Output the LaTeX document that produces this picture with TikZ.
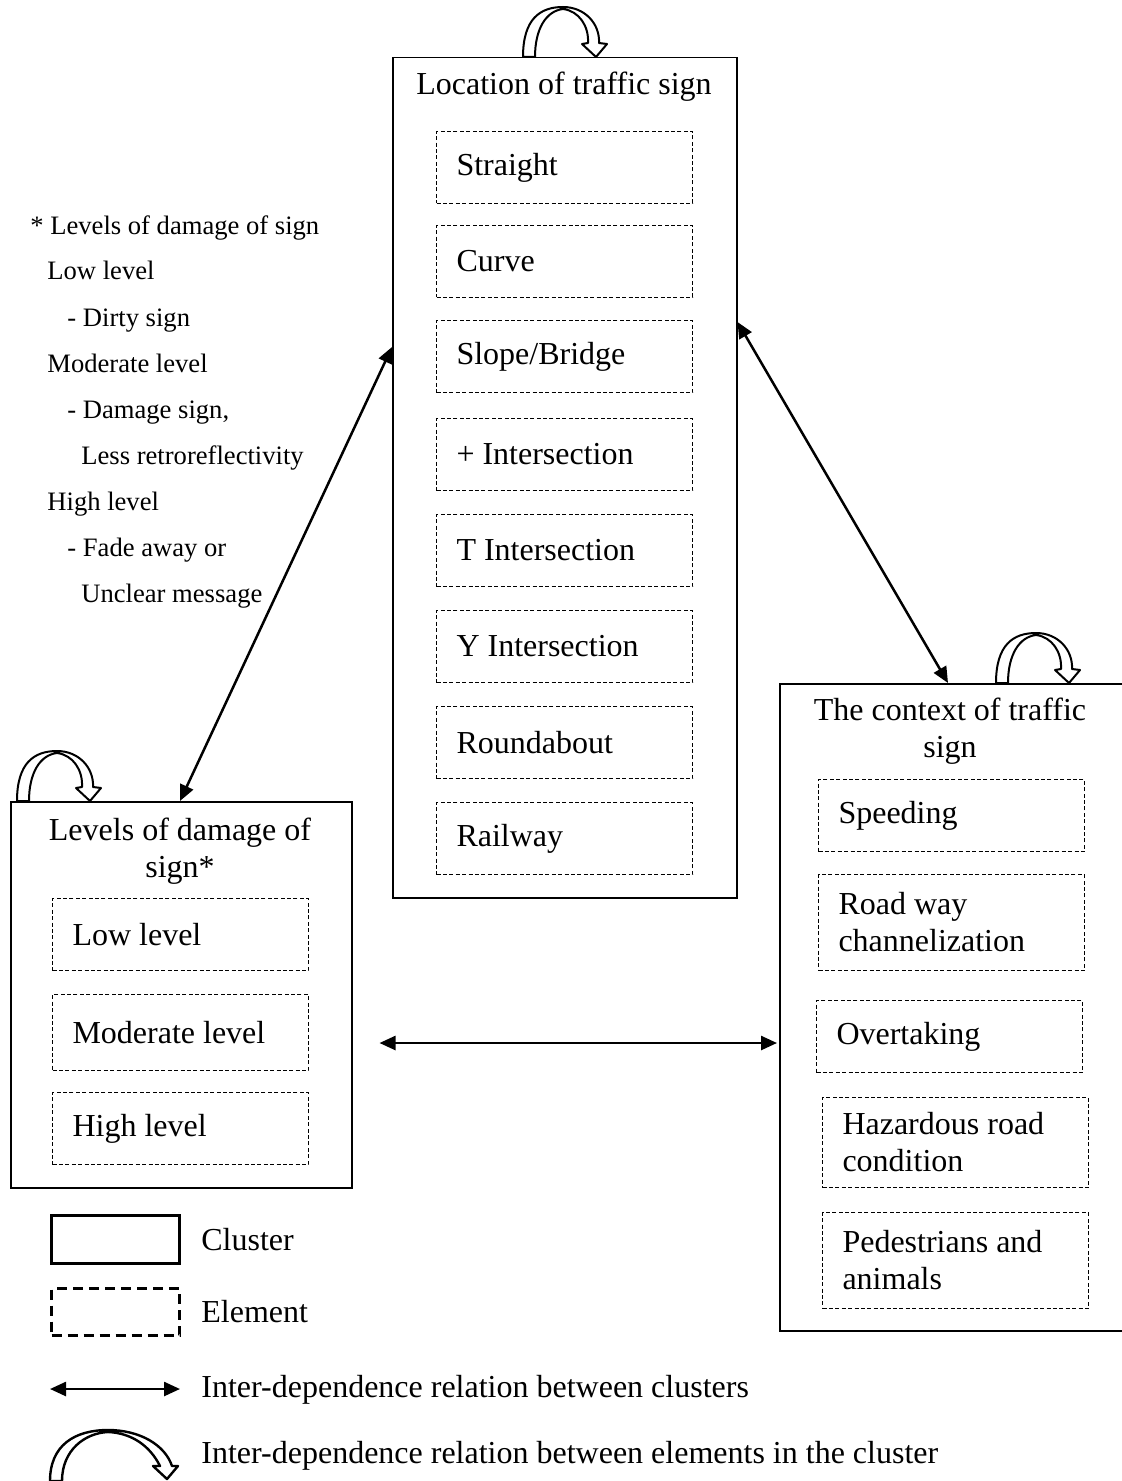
\documentclass[tikz,border=0pt]{standalone}
\usepackage{fontspec}
\setmainfont{Liberation Serif}
\usetikzlibrary{arrows.meta,calc}
\tikzset{
  selfloop/.pic={
    \draw[line width=1pt, fill=white, line join=round]
      (0,0) .. controls (0,-38) and (17,-50) .. (40,-50)
      .. controls (62,-50) and (77,-33) .. (76,-14)
      -- (84,-13) -- (73,0) -- (59,-13) -- (65,-14)
      .. controls (66,-31) and (56,-46) .. (40,-48)
      .. controls (23,-46) and (12,-28) .. (12,0) -- cycle;
  }
}
\begin{document}
\begin{tikzpicture}[x=0.5pt,y=-0.5pt,
  every node/.style={font=\fontsize{16}{18.5}\selectfont, inner sep=0pt},
  cluster/.style={draw, line width=0.75pt, anchor=north west},
  elem/.style={draw, line width=0.5pt, dash pattern=on 2pt off 1.2pt, anchor=north west,
    align=flush left, inner xsep=10pt, inner ysep=0pt, text width=108pt, minimum height=36pt},
  elemw/.style={elem, text width=113pt},
  note/.style={font=\fontsize{13.3}{16}\selectfont, anchor=west, text height=9pt, text depth=2.5pt},
  lab/.style={anchor=west, text height=11pt, text depth=3pt},
  conn/.style={line width=1.25pt, {Triangle[length=8pt,width=7pt]}-{Triangle[length=8pt,width=7pt]}}
]
\useasboundingbox (0,0) rectangle (1121,1481);

% ---------- Location cluster ----------
\node[cluster, minimum width=172pt, minimum height=420pt] (loc) at (392,57) {};
\node (loctitle) at (564,87) {Location of traffic sign};
\node[elem] (e1) at (436,131) {Straight};
\node[elem] (e2) at (436,225) {Curve};
\node[elem] (e3) at (436,320) {Slope/Bridge};
\node[elem] (e4) at (436,418) {+ Intersection};
\node[elem] (e5) at (436,514) {T Intersection};
\node[elem] (e6) at (436,610) {Y Intersection};
\node[elem] (e7) at (436,706) {Roundabout};
\node[elem] (e8) at (436,802) {Railway};
\pic at (523,57) {selfloop};

% ---------- Damage cluster ----------
\node[cluster, minimum width=170.5pt, minimum height=193pt] (dmg) at (10,801) {};
\node[align=center] (dmgtitle) at (180,851) {Levels of damage of\\sign*};
\node[elem] (d1) at (52,898) {Low level};
\node[elem, minimum height=38pt] (d2) at (52,994) {Moderate level};
\node[elem] (d3) at (52,1092) {High level};
\pic at (17,801) {selfloop};

% ---------- Context cluster ----------
\node[cluster, minimum width=172pt, minimum height=323.5pt] (ctx) at (779,683) {};
\node[align=center] (ctxtitle) at (950,731) {The context of traffic\\sign};
\node[elemw] (c1) at (818,779) {Speeding};
\node[elemw, minimum height=48pt] (c2) at (818,874) {Road way\\channelization};
\node[elemw] (c3) at (816,1000) {Overtaking};
\node[elemw, minimum height=45pt] (c4) at (822,1097) {Hazardous road\\condition};
\node[elemw, minimum height=48pt] (c5) at (822,1212) {Pedestrians and\\animals};
\pic at (996,683) {selfloop};

% ---------- Connectors between clusters ----------
\draw[conn] ($(loc.north west)+(0,290)$) -- ($(dmg.north west)+(170,0)$);
\draw[conn] ($(loc.north east)+(0,265)$) -- ($(ctx.north west)+(169,0)$);
\draw[conn] ($(dmg.north east)+(27,242)$) -- ($(ctx.north west)+(-2,360)$);

% ---------- Side note ----------
\node[note] (n1) at (30,228) {* Levels of damage of sign};
\node[note] (n2) at (47,273) {Low level};
\node[note] (n3) at (67,320) {- Dirty sign};
\node[note] (n4) at (47,366) {Moderate level};
\node[note] (n5) at (67,412) {- Damage sign,};
\node[note] (n6) at (81,458) {Less retroreflectivity};
\node[note] (n7) at (47,504) {High level};
\node[note] (n8) at (67,550) {- Fade away or};
\node[note] (n9) at (81,596) {Unclear message};

% ---------- Legend ----------
\node[draw, line width=1.5pt, anchor=north west, minimum width=64pt, minimum height=24pt] (lgc) at (50,1214) {};
\node[lab] (lgct) at (201,1242) {Cluster};
\node[draw, line width=1.5pt, dash pattern=on 5pt off 3pt, anchor=north west, minimum width=64pt, minimum height=23.5pt] (lge) at (50,1287) {};
\node[lab] (lget) at (201,1314) {Element};
\coordinate (la1) at (50,1389);
\coordinate (la2) at (180,1389);
\draw[conn] (la1) -- (la2);
\node[lab] (lgat) at (201,1389) {Inter-dependence relation between clusters};
\draw[line width=1.2pt, fill=white, line join=round]
  (50,1481) .. controls (50,1445) and (75,1430) .. (108,1430)
  .. controls (140,1430) and (165,1445) .. (172,1466)
  -- (178,1466) -- (167,1479) -- (153,1466) -- (160,1466)
  .. controls (150,1446) and (132,1433) .. (108,1432)
  .. controls (85,1433) and (62,1450) .. (62,1481) -- cycle;
\node[lab] (lglt) at (201,1455) {Inter-dependence relation between elements in the cluster};
\end{tikzpicture}
\end{document}
